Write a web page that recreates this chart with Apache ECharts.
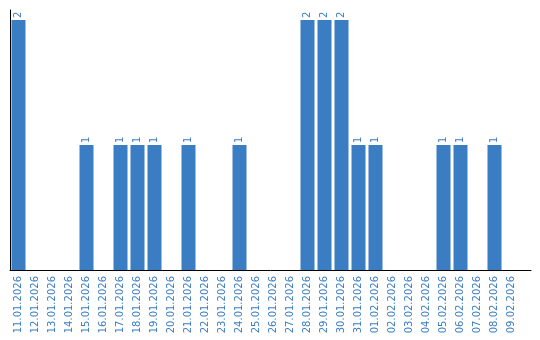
<!DOCTYPE html>
<html><head><meta charset="utf-8">
<script src="https://cdn.jsdelivr.net/npm/echarts@6/dist/echarts.min.js"></script>
<style>html,body{margin:0;padding:0;background:#fff}#c{width:540px;height:340px}</style>
</head><body><div id="c"></div>
<script>
const categories = ["11.01.2026","12.01.2026","13.01.2026","14.01.2026","15.01.2026","16.01.2026","17.01.2026","18.01.2026","19.01.2026","20.01.2026","21.01.2026","22.01.2026","23.01.2026","24.01.2026","25.01.2026","26.01.2026","27.01.2026","28.01.2026","29.01.2026","30.01.2026","31.01.2026","01.02.2026","02.02.2026","03.02.2026","04.02.2026","05.02.2026","06.02.2026","07.02.2026","08.02.2026","09.02.2026"];
const values = [2,0,0,0,1,0,1,1,1,0,1,0,0,1,0,0,0,2,2,2,1,1,0,0,0,1,1,0,1,0];
const chart = echarts.init(document.getElementById('c'));
const blue = '#3b7dc3';
chart.setOption({
  animation:false,
  grid:[{left:10,right:20,top:10,bottom:70,containLabel:false},
        {left:10,right:9,top:10,bottom:70,containLabel:false}],
  xAxis:[{type:'category',data:categories,gridIndex:0,
    axisLine:{show:false},axisTick:{show:false},
    axisLabel:{rotate:90,interval:0,color:blue,fontFamily:'DejaVu Sans',fontSize:10,margin:6}},
    {type:'value',gridIndex:1,min:0,max:1,axisLine:{show:true,lineStyle:{color:'#000',width:1}},
     axisTick:{show:false},axisLabel:{show:false},splitLine:{show:false}}],
  yAxis:[{type:'value',gridIndex:0,min:0,max:2.08,axisLine:{show:true,lineStyle:{color:'#000'}},
    axisTick:{show:false},axisLabel:{show:false},splitLine:{show:false}},
    {type:'value',gridIndex:1,show:false}],
  series:[{type:'bar',data:values.map(v=>v===0?null:v),barWidth:14,
    itemStyle:{color:blue},
    label:{show:true,position:'top',rotate:90,align:'left',verticalAlign:'middle',distance:2,color:blue,fontFamily:'DejaVu Sans',fontSize:10}}]
});
</script></body></html>
